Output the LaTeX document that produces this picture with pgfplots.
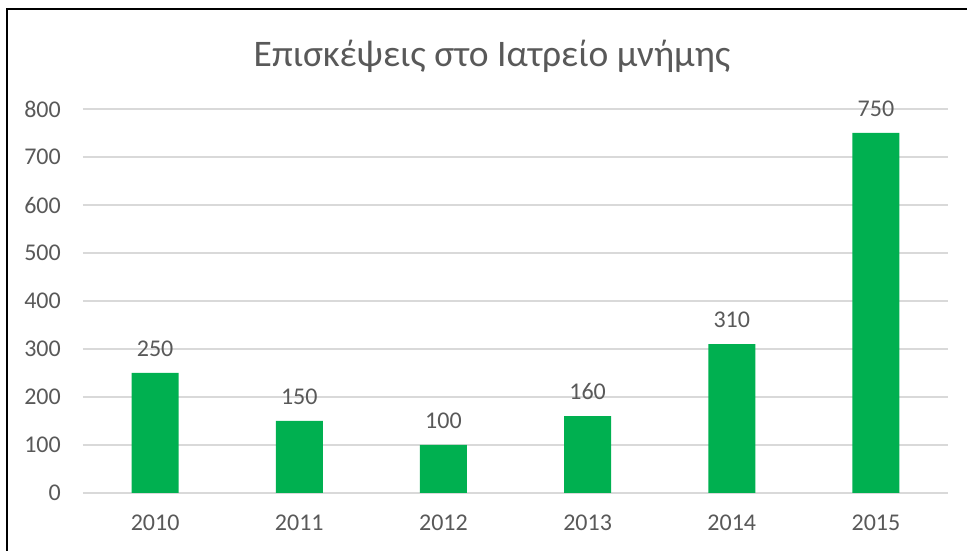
\documentclass[border=0pt]{standalone}
\usepackage{fontspec}
\setmainfont{Carlito}
\usepackage{pgfplots}
\pgfplotsset{compat=1.18}
\definecolor{bargreen}{HTML}{00B050}
\definecolor{txt}{HTML}{595959}
\definecolor{gridc}{HTML}{D9D9D9}
\begin{document}
\begin{tikzpicture}[x=1pt,y=1pt]
\path[use as bounding box] (0,0) rectangle (967,551);
\draw[line width=2pt] (7,0) -- (7,542) -- (968,542);
\node[text=txt, font=\fontsize{37.5}{37.5}\selectfont, anchor=base] at (492,484) {Επισκέψεις στο Ιατρείο μνήμης};
\begin{axis}[
  at={(83pt,58pt)}, anchor=south west, scale only axis,
  width=865pt, height=384pt,
  xmin=-0.5, xmax=5.5, ymin=0, ymax=800,
  ytick={0,100,...,800},
  xtick={0,1,2,3,4,5},
  xticklabels={2010,2011,2012,2013,2014,2015},
  ymajorgrids, grid style={gridc, line width=1.3pt},
  axis line style={draw=none},
  major tick length=0pt,
  /pgf/number format/assume math mode=true,
  tick label style={text=txt, font=\fontsize{24}{24}\selectfont, inner sep=0pt},
  yticklabel style={xshift=-22pt},
  xticklabel style={yshift=-22pt},
  clip=false,
  nodes near coords,
  every node near coord/.append style={text=txt, font=\fontsize{24}{24}\selectfont, inner sep=0pt, anchor=south, yshift=16pt},
]
\addplot[ybar, fill=bargreen, draw=none, bar width=47pt] coordinates {
(0,250) (1,150) (2,100) (3,160) (4,310) (5,750)
};
\end{axis}
\end{tikzpicture}
\end{document}
